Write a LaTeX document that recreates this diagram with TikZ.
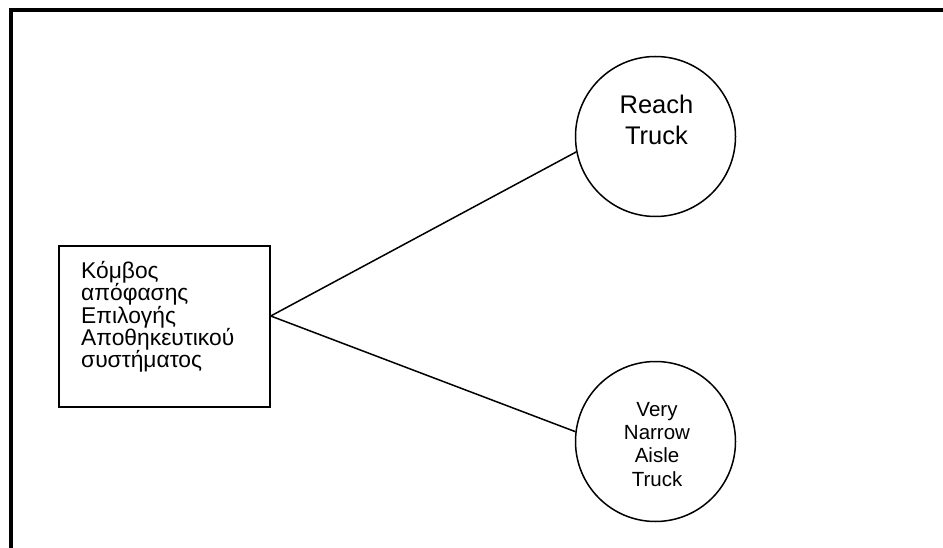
\documentclass[tikz,border=0pt]{standalone}
\usepackage{fontspec}
\setmainfont{Liberation Sans}
\begin{document}
\begin{tikzpicture}[x=1pt,y=-1pt,
  frameline/.style={line width=3.5pt, line join=miter},
  outlined/.style={draw, line width=1.5pt},
  conn/.style={line width=1.5pt},
  boxtxt/.style={font=\fontsize{22.8}{21.9}\selectfont, align=left, inner sep=0pt},
  reachtxt/.style={font=\fontsize{25.5}{31}\selectfont, align=center, inner sep=0pt},
  vnatxt/.style={font=\fontsize{20.5}{23.3}\selectfont, align=center, inner sep=0pt}]
\useasboundingbox (0,0) rectangle (943,548);
\fill[white] (0,0) rectangle (943,548);
\coordinate (fa) at (10.8,552);
\coordinate (fb) at (10.8,9.8);
\coordinate (fc) at (947,9.8);
\draw[frameline] (fa) -- (fb) -- (fc);
\node[outlined, minimum width=211pt, minimum height=161pt, inner sep=0pt] (box) at (164.5,326.5) {};
\node[boxtxt, anchor=base west] (boxt) at (81,367.7) {Κόμβος\\απόφασης\\Επιλογής\\Αποθηκευτικού\\συστήματος};
\node[outlined, circle, minimum size=160pt, inner sep=0pt] (reach) at (655.5,136.5) {};
\node[reachtxt, anchor=base] (reacht) at (656.5,145) {Reach\\Truck};
\node[outlined, circle, minimum size=160pt, inner sep=0pt] (vna) at (655.5,441.5) {};
\node[vnatxt, anchor=base] (vnat) at (657,486) {Very\\Narrow\\Aisle\\Truck};
\coordinate (j) at ([yshift=10.5pt]box.east);
\draw[conn] (j) -- (reach.191);
\draw[conn] (j) -- (vna.173);
\end{tikzpicture}
\end{document}
